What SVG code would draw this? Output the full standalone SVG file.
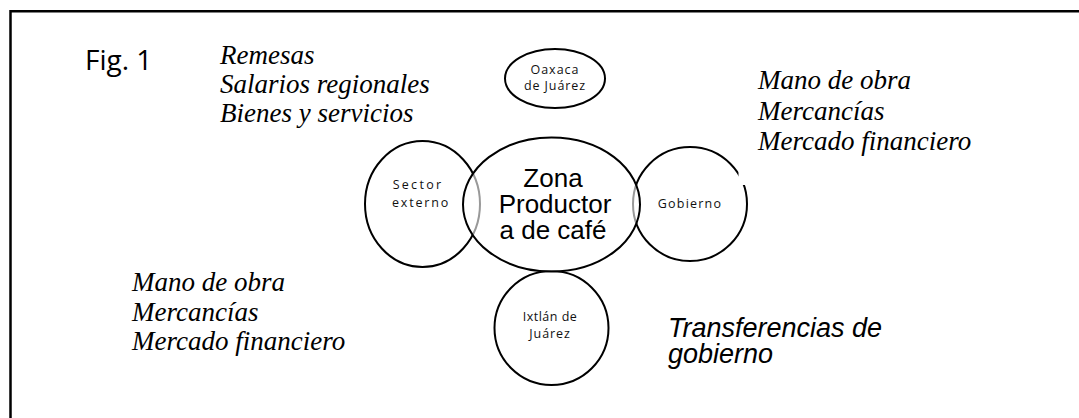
<svg xmlns="http://www.w3.org/2000/svg" width="1079" height="418" viewBox="0 0 1079 418">
<style>
.node{fill:#fff;stroke:#000;stroke-width:2}
.ser{font-family:"Liberation Serif","Times New Roman",serif;font-style:italic;font-size:27px;fill:#000}
.sm{font-family:"Open Sans","Noto Sans",sans-serif;font-size:12.5px;fill:#111;text-anchor:middle}
.big{font-family:"Liberation Sans",Arial,sans-serif;font-size:26px;fill:#000;text-anchor:middle}
</style>
<rect width="1079" height="418" fill="#fff"/>
<g id="frame" fill="none" stroke="#000" stroke-width="2.5">
<path d="M10.5 418 V11.2 H1079"/>
</g>
<text id="fig" x="85" y="70" font-family="Open Sans,Noto Sans,sans-serif" font-size="28" fill="#000">Fig. 1</text>
<g id="txt-top-left">
<text x="220" y="64" class="ser">Remesas</text>
<text x="220" y="93" class="ser">Salarios regionales</text>
<text x="220" y="122" class="ser">Bienes y servicios</text>
</g>
<g id="txt-top-right">
<text x="758" y="89" class="ser">Mano de obra</text>
<text x="758" y="120" class="ser">Mercancías</text>
<text x="758" y="150" class="ser">Mercado financiero</text>
</g>
<g id="txt-bottom-left">
<text x="132" y="291" class="ser">Mano de obra</text>
<text x="132" y="321" class="ser">Mercancías</text>
<text x="132" y="350" class="ser">Mercado financiero</text>
</g>
<g id="txt-transfer" font-family="Liberation Sans,Arial,sans-serif" font-style="italic" font-size="27" fill="#000">
<text x="668" y="337">Transferencias de</text>
<text x="668" y="363">gobierno</text>
</g>
<g id="oaxaca">
<ellipse class="node" cx="555" cy="78.5" rx="50" ry="29.5"/>
<text class="sm" x="555" y="74" letter-spacing="1">Oaxaca</text>
<text class="sm" x="555" y="90" letter-spacing="0.9">de Juárez</text>
</g>
<g id="sector">
<ellipse class="node" cx="422.5" cy="204" rx="57.5" ry="63"/>
<text class="sm" x="418" y="189" letter-spacing="2.3">Sector</text>
<text class="sm" x="421" y="207" letter-spacing="1.8">externo</text>
</g>
<g id="gobierno">
<circle class="node" cx="690" cy="204" r="57"/>
<rect x="738.5" y="150" width="12" height="35" fill="#fff"/>
<text class="sm" x="690" y="208" letter-spacing="1.2">Gobierno</text>
</g>
<g id="ixtlan">
<circle class="node" cx="551.5" cy="328" r="57"/>
<text class="sm" x="550" y="321" letter-spacing="0.5">Ixtlán de</text>
<text class="sm" x="550" y="338" letter-spacing="0.9">Juárez</text>
</g>
<g id="zona">
<ellipse cx="551.5" cy="204.5" rx="88.5" ry="67" fill="#fff" fill-opacity="0.6" stroke="#000" stroke-width="2"/>
<text class="big" x="553" y="187">Zona</text>
<text class="big" x="555" y="213">Productor</text>
<text class="big" x="553" y="239">a de café</text>
</g>
<g id="connectors"/>
</svg>
